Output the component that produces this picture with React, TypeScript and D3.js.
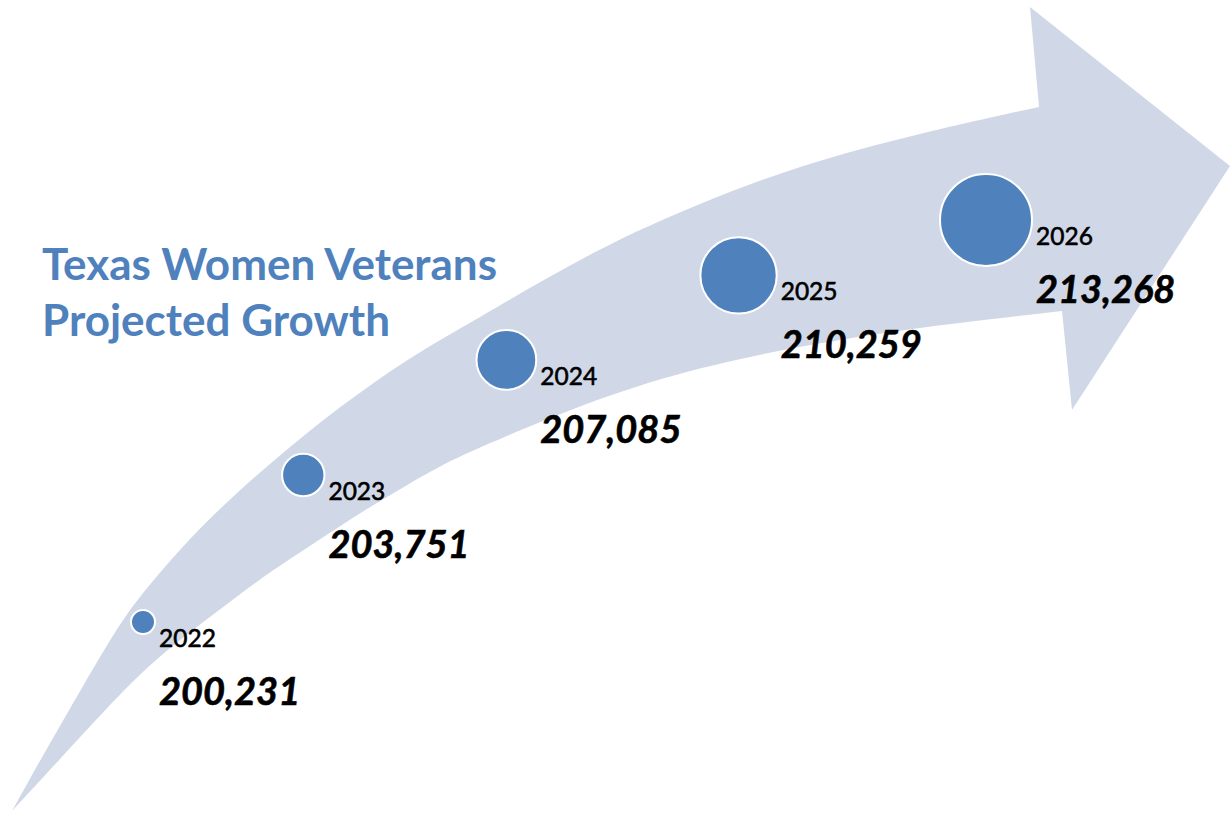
import React from "react";
import * as d3 from "d3";

// ---- data ----
const years: number[] = [2022, 2023, 2024, 2025, 2026];
const values: number[] = [200231, 203751, 207085, 210259, 213268];
const titleLines: string[] = ["Texas Women Veterans", "Projected Growth"];

// ---- layout ----
const W = 1231;
const H = 813;
const BLUE = "#4F81BD";
const ARROW = "#D0D8E8";
const FONT = "Lato, 'Noto Sans', sans-serif";

type P = [number, number];
const upperEdge: P[] = [
  [12, 811], [47, 748], [83, 686], [117, 628], [140, 596], [173, 557],
  [207, 521], [240, 490], [273, 461], [307, 433], [340, 407], [373, 383],
  [407, 360], [440, 340], [480, 317], [600, 247], [700, 203], [800, 165],
  [920, 133], [1039, 107],
];
const headPts: P[] = [[1030, 7], [1230, 166], [1072, 410], [1062, 311]];
const lowerEdge: P[] = [
  [1062, 311], [920, 327], [800, 346], [700, 367], [600, 397], [480, 447],
  [440, 466], [407, 485], [373, 505], [340, 526], [307, 548], [273, 570],
  [240, 594], [207, 619], [173, 645], [140, 674], [107, 708], [60, 759],
  [12, 811],
];
// track the bubbles follow (cubic Bezier)
const T0: P = [143, 622];
const T1: P = [322, 404];
const T2: P = [652, 275];
const T3: P = [986, 220];

function bez(t: number): P {
  const u = 1 - t;
  const a = u * u * u, b = 3 * u * u * t, c = 3 * u * t * t, d = t * t * t;
  return [
    a * T0[0] + b * T1[0] + c * T2[0] + d * T3[0],
    a * T0[1] + b * T1[1] + c * T2[1] + d * T3[1],
  ];
}

export default function App() {
  const edge = d3.line<P>().curve(d3.curveBasis);
  const up = edge(upperEdge) as string;
  const low = (edge(lowerEdge) as string).replace(/^M/, "L");
  const arrowD = up + headPts.map((p) => `L${p[0]},${p[1]}`).join("") + low + "Z";

  const rScale = d3.scaleLinear().domain(d3.extent(values) as [number, number]).range([13, 47]);
  const tScale = d3.scaleLinear().domain(d3.extent(years) as [number, number]).range([0, 1]);

  const fmt = d3.format(",");

  return (
    <svg width={W} height={H} style={{ position: "absolute", left: 0, top: 0, background: "#fff" }}>
      <rect width={W} height={H} fill="#fff" />
      <path d={arrowD} fill={ARROW} />
      {titleLines.map((t, i) => (
        <text key={t} x={42} y={280 + i * 56} fill={BLUE} fontFamily={FONT} fontWeight={700} fontSize={44}>
          {t}
        </text>
      ))}
      {years.map((y, i) => {
        const [cx, cy] = bez(tScale(y));
        const r = rScale(values[i]);
        const lx = cx + r + 3;
        return (
          <g key={y}>
            <circle cx={cx} cy={cy} r={r - 1} fill={BLUE} stroke="#fff" strokeWidth={2} />
            <text x={lx} y={cy + 25} fontFamily={FONT} fontSize={24.5} fill="#000" stroke="#000" strokeWidth={0.6}>
              {y}
            </text>
            <text x={lx} y={cy + 83} fontFamily={FONT} fontSize={38} fontWeight={700} fontStyle="italic" fill="#000" stroke="#000" strokeWidth={0.6}>
              {fmt(values[i])}
            </text>
          </g>
        );
      })}
    </svg>
  );
}
